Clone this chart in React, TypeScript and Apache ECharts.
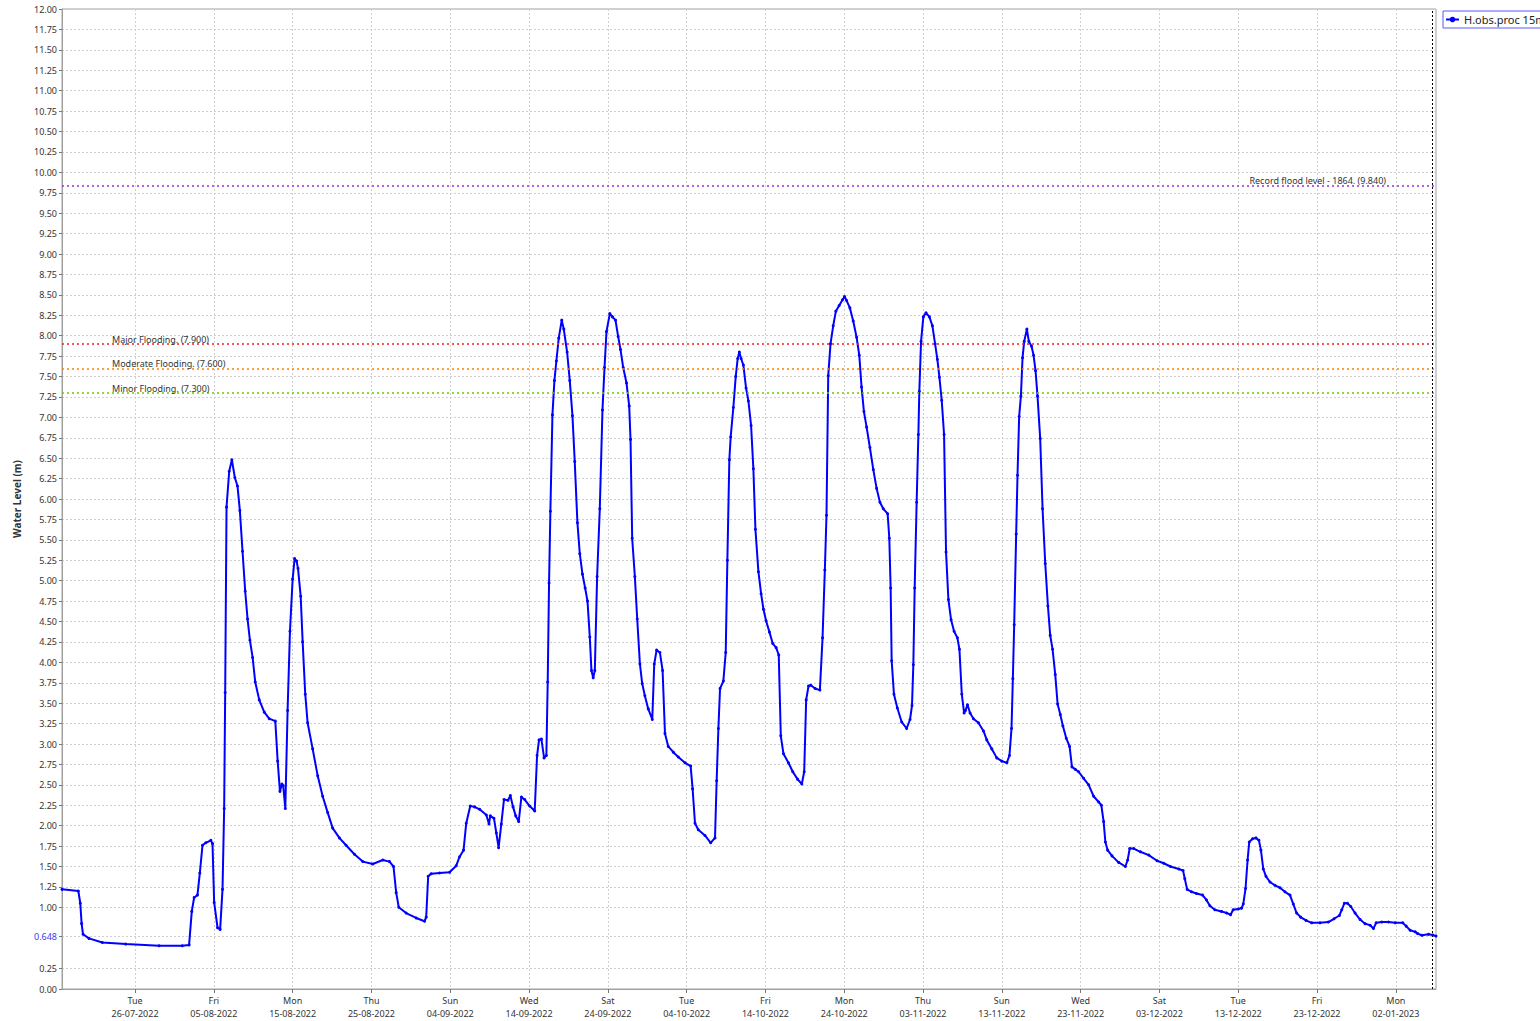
import React, { useEffect, useRef } from 'react';
import * as echarts from 'echarts';

// Observation times: days since 2022-07-26 00:00 (UTC)
const obsDays = [
  -9.27, -7.2, -6.95, -6.78, -6.6, -5.85, -4.15, -1.19, 3.05, 6.0, 6.86, 7.2, 7.5, 7.92, 8.22, 8.56, 8.98, 9.62, 9.83,
  10.04, 10.47, 10.8, 11.1, 11.31, 11.44, 11.61, 11.95, 12.29, 12.67, 13.0, 13.3, 13.64, 13.98, 14.28, 14.58, 14.92,
  15.25, 15.76, 16.4, 17.03, 17.8, 18.1, 18.39, 18.64, 18.8, 19.07, 19.36, 19.66, 20.0, 20.25, 20.5, 20.68, 21.02,
  21.27, 21.6, 21.9, 22.54, 23.18, 23.81, 24.45, 25.08, 25.93, 26.78, 27.84, 28.9, 30.17, 31.44, 32.29, 32.8, 33.14,
  33.47, 34.4, 35.68, 36.74, 36.95, 37.2, 37.58, 38.64, 39.92, 40.76, 41.19, 41.69, 42.03, 42.54, 43.09, 43.73,
  44.58, 44.92, 45.08, 45.55, 45.85, 46.14, 46.48, 46.82, 47.33, 47.63, 47.97, 48.31, 48.69, 49.03, 49.45, 50.08,
  50.72, 51.02, 51.27, 51.57, 51.91, 52.2, 52.37, 52.54, 52.71, 52.97, 53.22, 53.47, 53.77, 54.15, 54.41, 54.83,
  55.17, 55.51, 55.8, 56.14, 56.44, 56.78, 57.12, 57.42, 57.71, 57.92, 58.14, 58.35, 58.64, 58.98, 59.32, 59.58,
  59.83, 60.25, 60.59, 60.97, 61.31, 61.61, 61.95, 62.37, 62.71, 62.88, 63.09, 63.43, 63.73, 64.07, 64.36, 64.7,
  65.13, 65.64, 65.89, 66.19, 66.61, 66.95, 67.25, 67.67, 68.31, 68.94, 69.79, 70.51, 70.76, 71.06, 71.48, 72.33,
  73.05, 73.6, 73.81, 74.03, 74.24, 74.66, 74.96, 75.17, 75.42, 75.59, 75.93, 76.23, 76.48, 76.69, 76.91, 77.2,
  77.54, 77.84, 78.18, 78.47, 78.73, 79.11, 79.45, 79.75, 80.08, 80.51, 80.93, 81.36, 81.69, 81.95, 82.29, 82.92,
  83.47, 84.07, 84.62, 84.92, 85.17, 85.47, 85.76, 86.31, 86.91, 87.25, 87.54, 87.75, 87.97, 88.26, 88.6, 88.94,
  89.36, 89.79, 90.04, 90.3, 90.72, 91.14, 91.57, 91.91, 92.2, 92.5, 92.84, 93.26, 93.69, 94.11, 94.53, 94.96,
  95.51, 95.72, 95.89, 96.02, 96.31, 96.74, 97.29, 97.92, 98.35, 98.6, 98.77, 98.94, 99.19, 99.41, 99.53, 99.75,
  100.04, 100.38, 100.81, 101.19, 101.53, 101.82, 102.08, 102.37, 102.67, 102.92, 103.22, 103.56, 103.94, 104.36,
  104.62, 104.92, 105.21, 105.38, 105.64, 105.97, 106.4, 107.03, 107.67, 108.09, 108.73, 109.36, 110.0, 110.64,
  110.97, 111.23, 111.4, 111.57, 111.82, 111.99, 112.2, 112.42, 112.63, 112.84, 113.18, 113.43, 113.77, 114.03,
  114.28, 114.53, 114.87, 115.17, 115.51, 115.85, 116.14, 116.44, 116.78, 117.08, 117.42, 117.75, 118.18, 118.6,
  118.9, 119.32, 119.75, 120.38, 121.02, 121.65, 122.29, 122.63, 122.92, 123.14, 123.43, 123.98, 124.83, 125.68,
  125.97, 126.23, 126.74, 127.58, 128.64, 129.7, 130.55, 131.4, 132.46, 133.0, 133.22, 133.52, 134.07, 134.7,
  135.47, 135.97, 136.4, 137.03, 137.88, 138.52, 139.03, 139.36, 140.0, 140.42, 140.64, 140.93, 141.19, 141.4,
  141.82, 142.25, 142.63, 142.88, 143.18, 143.52, 144.03, 144.66, 145.3, 145.93, 146.57, 146.99, 147.41, 147.92,
  148.6, 149.32, 150.38, 151.44, 152.16, 152.84, 153.14, 153.47, 153.86, 154.28, 154.83, 155.47, 156.1, 156.74,
  157.16, 157.5, 158.22, 159.07, 159.92, 160.89, 161.31, 161.82, 162.46, 162.75, 163.31, 164.15, 164.7, 165.1,
];

// Water level (m)
const obsLevels = [
  1.22, 1.2, 1.05, 0.8, 0.67, 0.62, 0.57, 0.55, 0.53, 0.53, 0.54, 0.95, 1.12, 1.15, 1.42, 1.76, 1.79, 1.82, 1.78,
  1.06, 0.75, 0.73, 1.22, 2.21, 3.63, 5.9, 6.34, 6.48, 6.26, 6.16, 5.86, 5.36, 4.87, 4.53, 4.27, 4.06,
  3.76, 3.54, 3.39, 3.31, 3.28, 2.79, 2.42, 2.51, 2.49, 2.21, 3.41, 4.38, 5.02, 5.27, 5.24, 5.15, 4.81,
  4.25, 3.61, 3.26, 2.94, 2.61, 2.36, 2.16, 1.97, 1.85, 1.76, 1.65, 1.56, 1.53, 1.58, 1.56, 1.5, 1.18,
  1.0, 0.93, 0.87, 0.83, 0.88, 1.38, 1.41, 1.42, 1.43, 1.51, 1.62, 1.7, 2.03, 2.24, 2.23, 2.2,
  2.13, 2.02, 2.12, 2.09, 1.91, 1.73, 2.02, 2.32, 2.31, 2.37, 2.23, 2.12, 2.05, 2.35, 2.32, 2.24,
  2.18, 2.86, 3.05, 3.06, 2.83, 2.86, 3.76, 4.97, 5.85, 7.03, 7.45, 7.69, 7.97, 8.19, 8.08, 7.8,
  7.45, 7.02, 6.46, 5.71, 5.33, 5.08, 4.91, 4.75, 4.31, 3.9, 3.81, 3.9, 5.05, 5.88, 7.09, 7.61,
  8.05, 8.27, 8.23, 8.19, 7.99, 7.83, 7.61, 7.42, 7.14, 6.73, 5.52, 5.05, 4.53, 3.98, 3.74, 3.59,
  3.43, 3.3, 3.98, 4.15, 4.12, 3.9, 3.13, 2.97, 2.9, 2.84, 2.77, 2.73, 2.45, 2.03, 1.95, 1.88,
  1.79, 1.85, 2.55, 3.19, 3.68, 3.77, 4.12, 5.25, 6.48, 6.76, 7.12, 7.5, 7.72, 7.8, 7.72, 7.64,
  7.36, 7.2, 6.9, 6.37, 5.63, 5.11, 4.84, 4.65, 4.51, 4.37, 4.23, 4.18, 4.09, 3.1, 2.88, 2.77,
  2.66, 2.57, 2.51, 2.66, 3.54, 3.71, 3.72, 3.68, 3.66, 4.3, 5.13, 5.8, 7.51, 7.9, 8.12, 8.3,
  8.37, 8.44, 8.48, 8.43, 8.34, 8.18, 7.98, 7.76, 7.37, 7.07, 6.88, 6.63, 6.36, 6.13, 5.96, 5.88,
  5.82, 5.52, 4.91, 4.02, 3.61, 3.44, 3.27, 3.19, 3.3, 3.47, 3.97, 4.91, 5.96, 6.79, 7.32, 7.93,
  8.23, 8.28, 8.23, 8.12, 7.9, 7.71, 7.49, 7.21, 6.79, 5.35, 4.77, 4.52, 4.38, 4.3,
  4.16, 3.61, 3.38, 3.41, 3.48, 3.38, 3.31, 3.26, 3.16, 3.05, 2.94, 2.83, 2.79, 2.77,
  2.86, 3.19, 3.8, 4.46, 5.57, 6.29, 7.01, 7.26, 7.73, 7.93, 8.08, 7.93, 7.87, 7.76,
  7.57, 7.26, 6.74, 5.88, 5.21, 4.69, 4.33, 4.16, 3.85, 3.49, 3.36, 3.22, 3.07, 2.97,
  2.72, 2.69, 2.66, 2.58, 2.5, 2.36, 2.29, 2.25, 2.05, 1.8, 1.7, 1.63, 1.55, 1.5,
  1.58, 1.72, 1.72, 1.68, 1.64, 1.57, 1.54, 1.5, 1.47, 1.45, 1.35, 1.22, 1.19, 1.17,
  1.15, 1.09, 1.02, 0.97, 0.95, 0.93, 0.91, 0.97, 0.98, 0.99, 1.04, 1.23, 1.58, 1.8,
  1.84, 1.85, 1.82, 1.7, 1.47, 1.38, 1.31, 1.27, 1.24, 1.19, 1.15, 1.04, 0.93, 0.88,
  0.84, 0.81, 0.81, 0.82, 0.86, 0.9, 0.97, 1.05, 1.05, 1.01, 0.93, 0.85, 0.8, 0.78,
  0.74, 0.81, 0.82, 0.82, 0.81, 0.81, 0.77, 0.72, 0.7, 0.68, 0.657, 0.67, 0.66, 0.648,
];

const baseDate = '2022-07-26';
const axisStartDay = -9.27;
const axisEndDay = 165.1;
const nowDay = 164.6;
const latestLevel = 0.648;

const tickDates = [
  '2022-07-26', '2022-08-05', '2022-08-15', '2022-08-25', '2022-09-04', '2022-09-14', '2022-09-24', '2022-10-04',
  '2022-10-14', '2022-10-24', '2022-11-03', '2022-11-13', '2022-11-23', '2022-12-03', '2022-12-13', '2022-12-23',
  '2023-01-02',
];

const yTickValues = [
  0, 0.25, 0.648, 1, 1.25, 1.5, 1.75, 2, 2.25, 2.5, 2.75, 3, 3.25, 3.5, 3.75, 4, 4.25, 4.5, 4.75, 5, 5.25, 5.5,
  5.75, 6, 6.25, 6.5, 6.75, 7, 7.25, 7.5, 7.75, 8, 8.25, 8.5, 8.75, 9, 9.25, 9.5, 9.75, 10, 10.25, 10.5, 10.75,
  11, 11.25, 11.5, 11.75, 12,
];

const thresholdNames = ['Record flood level - 1864.', 'Major Flooding.', 'Moderate Flooding.', 'Minor Flooding.'];
const thresholdValues = [9.84, 7.9, 7.6, 7.3];
const thresholdColors = ['#9b30d9', '#ff1a1a', '#ff8000', '#66cc00'];

const seriesName = 'H.obs.proc 15min';
const FONT = '"Noto Sans", "Open Sans", sans-serif';

const DAY = 86400000;
const parseDate = (s: string) => {
  const [y, m, d] = s.split('-').map(Number);
  return Date.UTC(y, m - 1, d);
};
const base = parseDate(baseDate);
const dayToTs = (d: number) => base + d * DAY;
const WEEKDAYS = ['Sun', 'Mon', 'Tue', 'Wed', 'Thu', 'Fri', 'Sat'];
const pad = (n: number) => (n < 10 ? '0' + n : '' + n);

export default function App() {
  const ref = useRef<HTMLDivElement>(null);
  useEffect(() => {
    if (!ref.current) return;
    const chart = echarts.init(ref.current, null, { renderer: 'svg' });
    const data = obsDays.map((d, i) => [dayToTs(d), obsLevels[i]]);
    const tickTs = tickDates.map(parseDate);

    const thresholdLines = thresholdValues.map((v, i) => ({
      yAxis: v,
      lineStyle: { color: thresholdColors[i], type: [2, 3], width: 1.5 },
      label: {
        show: true,
        position: i === 0 ? 'insideEndTop' : 'insideStartTop',
        distance: [50, 0],
        formatter: `${thresholdNames[i]} (${v.toFixed(3)})`,
        color: '#333',
        fontSize: 9,
        fontFamily: FONT,
      },
    }));

    chart.setOption({
      animation: false,
      backgroundColor: '#fff',
      grid: {
        left: 62,
        top: 9,
        right: 104,
        bottom: 32,
        show: true,
        borderColor: '#a0a0a0',
        borderWidth: 1,
      },
      legend: {
        data: [seriesName],
        left: 1443,
        top: 11,
        borderColor: '#5a5aff',
        borderWidth: 1,
        padding: [3, 4, 3, 2],
        itemWidth: 13,
        itemHeight: 7,
        itemGap: 4,
        textStyle: { fontSize: 11, fontFamily: FONT, color: '#222' },
      },
      xAxis: {
        type: 'value',
        min: dayToTs(axisStartDay),
        max: dayToTs(axisEndDay),
        axisLine: { show: true, lineStyle: { color: '#a0a0a0' } },
        axisTick: { show: true, customValues: tickTs, length: 4, lineStyle: { color: '#777' } },
        axisLabel: {
          customValues: tickTs,
          fontSize: 9,
          fontFamily: FONT,
          color: '#333',
          lineHeight: 13,
          margin: 5,
          formatter: (v: number) => {
            const dt = new Date(v);
            return `${WEEKDAYS[dt.getUTCDay()]}\n${pad(dt.getUTCDate())}-${pad(dt.getUTCMonth() + 1)}-${dt.getUTCFullYear()}`;
          },
        },
        splitLine: { show: true, lineStyle: { color: '#cfcfcf', type: [2, 2], width: 1 } },
      },
      yAxis: {
        type: 'value',
        min: 0,
        max: 12,
        name: 'Water Level (m)',
        nameLocation: 'middle',
        nameGap: 40,
        nameTextStyle: { fontSize: 10, fontWeight: 'bold', fontFamily: FONT, color: '#333' },
        axisLine: { show: true, lineStyle: { color: '#a0a0a0' } },
        axisTick: { show: true, customValues: yTickValues, length: 3, lineStyle: { color: '#777' } },
        axisLabel: {
          customValues: yTickValues,
          fontSize: 9,
          fontFamily: FONT,
          color: '#333',
          margin: 5,
          formatter: (v: number) =>
            Math.abs(v - latestLevel) < 1e-6 ? `{hl|${v.toFixed(3)}}` : v.toFixed(2),
          rich: { hl: { color: '#3a3aff', fontSize: 9, fontFamily: FONT } },
        },
        splitLine: { show: true, lineStyle: { color: '#cfcfcf', type: [2, 2], width: 1 } },
      },
      series: [
        {
          name: seriesName,
          type: 'line',
          data,
          color: '#0000ff',
          lineStyle: { color: '#0000ff', width: 2 },
          symbol: 'circle',
          symbolSize: 3,
          showSymbol: true,
          itemStyle: { color: '#0000ff' },
          markLine: {
            silent: true,
            symbol: ['none', 'none'],
            animation: false,
            data: [
              ...thresholdLines,
              {
                xAxis: dayToTs(nowDay),
                lineStyle: { color: '#000', type: [2, 2], width: 1 },
                label: { show: false },
              },
            ],
          },
        },
      ],
    });
    return () => chart.dispose();
  }, []);
  return <div ref={ref} style={{ position: 'absolute', left: 0, top: 0, width: 1540, height: 1021 }} />;
}
